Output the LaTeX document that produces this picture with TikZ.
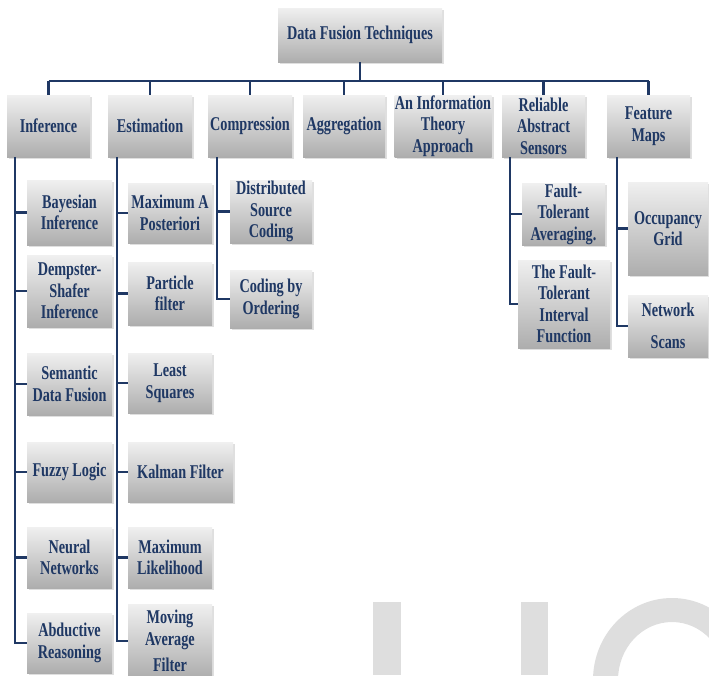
\documentclass[tikz,border=0pt]{standalone}
\usepackage{fontspec}
\setmainfont{Liberation Serif}[FakeStretch=0.73]
\usetikzlibrary{shadows}
\definecolor{navy}{RGB}{31,56,100}
\definecolor{wmgray}{RGB}{222,222,222}
\begin{document}
\begin{tikzpicture}[x=1pt,y=-1pt,
  bx/.style={top color=black!6, middle color=white, bottom color=black!32,
    drop shadow={shadow xshift=2pt, shadow yshift=-2pt, opacity=0.25},
    text=navy, font=\fontsize{19.5}{21.5}\selectfont\bfseries, align=center, inner sep=0pt},
  conn/.style={draw=navy, line width=2.8pt}]
\useasboundingbox (0,0) rectangle (709,675);
% watermark
\begin{scope}
\clip (0,0) rectangle (709,675);
\fill[wmgray] (373,602) rectangle (401,675);
\fill[wmgray] (521,602) rectangle (548,675);
\fill[wmgray, even odd rule] (672,680) ellipse [x radius=79, y radius=82]
  (672,680) ellipse [x radius=54, y radius=58];
\end{scope}
% level 0 and 1
\node[bx, minimum width=164, minimum height=54] (root) at (360,35) {Data Fusion Techniques};
\node[bx, minimum width=83, minimum height=62] (inf) at (48.5,126) {Inference};
\node[bx, minimum width=84, minimum height=62] (est) at (150,126) {Estimation};
\node[bx, minimum width=84, minimum height=62] (comp) at (250,126) {Compression};
\node[bx, minimum width=82, minimum height=62] (agg) at (344,126) {Aggregation};
\node[bx, minimum width=97, minimum height=62] (info) at (443,126) {An Information\\Theory\\Approach};
\node[bx, minimum width=83, minimum height=62] (rel) at (543.5,126) {Reliable\\Abstract\\Sensors};
\node[bx, minimum width=83, minimum height=62] (feat) at (648.5,126) {Feature\\Maps};
% Inference children
\node[bx, minimum width=85, minimum height=65] (bay) at (69.5,212.5) {Bayesian\\Inference};
\node[bx, minimum width=85, minimum height=72] (dem) at (69.5,291) {Dempster-\\Shafer\\Inference};
\node[bx, minimum width=85, minimum height=62] (sem) at (69.5,384) {Semantic\\Data Fusion};
\node[bx, minimum width=85, minimum height=60] (fuz) at (69.5,472) {Fuzzy Logic};
\node[bx, minimum width=85, minimum height=61] (neu) at (69.5,557.5) {Neural\\Networks};
\node[bx, minimum width=85, minimum height=60] (abd) at (69.5,643) {Abductive\\Reasoning};
% Estimation children
\node[bx, minimum width=84, minimum height=60] (map) at (170,213) {Maximum A\\Posteriori};
\node[bx, minimum width=84, minimum height=63] (par) at (170,293.5) {Particle\\filter};
\node[bx, minimum width=84, minimum height=60] (lsq) at (170,383) {Least\\Squares};
\node[bx, minimum width=105, minimum height=60] (kal) at (180.5,472) {Kalman Filter};
\node[bx, minimum width=84, minimum height=61] (mle) at (170,557.5) {Maximum\\Likelihood};
\node[bx, minimum width=84, minimum height=74] (maf) at (170,641) {Moving\\Average\\[5pt]Filter};
% Compression children
\node[bx, minimum width=82, minimum height=63] (dsc) at (271,211.5) {Distributed\\Source\\Coding};
\node[bx, minimum width=82, minimum height=58] (cbo) at (271,299) {Coding by\\Ordering};
% Reliable children
\node[bx, minimum width=83, minimum height=62] (fta) at (563.5,214) {Fault-\\Tolerant\\Averaging.};
\node[bx, minimum width=92, minimum height=88] (fti) at (564,304) {The Fault-\\Tolerant\\Interval\\Function};
% Feature children
\node[bx, minimum width=80, minimum height=93] (occ) at (668,228.5) {Occupancy\\Grid};
\node[bx, minimum width=80, minimum height=62] (net) at (668,326) {Network\\[10pt]Scans};
% bus
\coordinate (bus) at (0,81);
\draw[conn] (root.south) -- (root.south |- bus);
\draw[conn] (inf.north |- bus) -- (feat.north |- bus);
\foreach \n in {inf,est,comp,agg,info,rel,feat}
  \draw[conn] (\n.north |- bus) -- (\n.north);
% child trunks
\coordinate (xi) at (15,0);
\coordinate (xe) at (117,0);
\coordinate (xc) at (217,0);
\coordinate (xr) at (510,0);
\coordinate (xf) at (617,0);
\draw[conn] (inf.south -| xi) |- (abd.west);
\foreach \n in {bay,dem,sem,fuz,neu} \draw[conn] (\n.west -| xi) -- (\n.west);
\draw[conn] (est.south -| xe) |- (maf.west);
\foreach \n in {map,par,lsq,kal,mle} \draw[conn] (\n.west -| xe) -- (\n.west);
\draw[conn] (comp.south -| xc) |- (cbo.west);
\draw[conn] (dsc.west -| xc) -- (dsc.west);
\draw[conn] (rel.south -| xr) |- (fti.west);
\draw[conn] (fta.west -| xr) -- (fta.west);
\draw[conn] (feat.south -| xf) |- (net.west);
\draw[conn] (occ.west -| xf) -- (occ.west);
\end{tikzpicture}
\end{document}
